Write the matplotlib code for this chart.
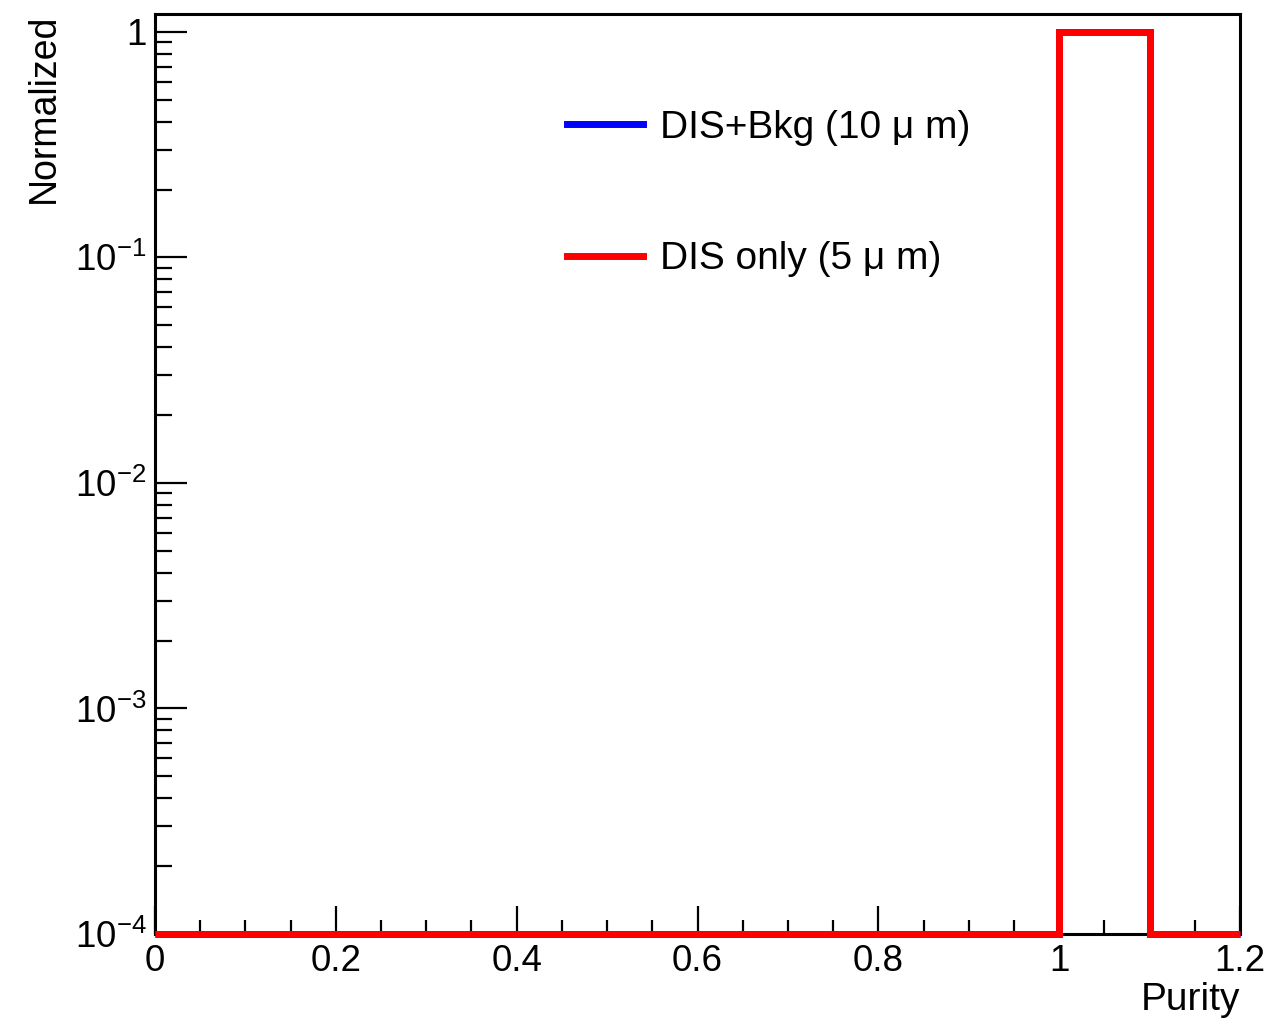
import numpy as np
import matplotlib
matplotlib.use("Agg")
import matplotlib.pyplot as plt
from matplotlib.ticker import FuncFormatter, MultipleLocator, LogLocator

plt.rcParams['font.family'] = ['Liberation Sans', 'DejaVu Sans']
plt.rcParams['mathtext.fontset'] = 'custom'
plt.rcParams['mathtext.rm'] = 'Liberation Sans'
plt.rcParams['mathtext.it'] = 'Liberation Sans'

# histogram bins (Purity) and normalized contents
bin_edges = [0.0, 0.1, 0.2, 0.3, 0.4, 0.5, 0.6, 0.7, 0.8, 0.9, 1.0, 1.1, 1.2]
dis_bkg = [0, 0, 0, 0, 0, 0, 0, 0, 0, 0, 1.0, 0]
dis_only = [0, 0, 0, 0, 0, 0, 0, 0, 0, 0, 1.0, 0]
labels = ['DIS+Bkg (10 μ m)', 'DIS only (5 μ m)']

ymin, ymax = 1e-4, 1.2

fig = plt.figure(figsize=(12.66, 10.23), dpi=100)
ax = fig.add_axes([155/1266, 1 - 934/1023, (1240-155)/1266, (934-14)/1023])

# empty bins are drawn at the axis floor, as ROOT does on a log scale
for vals, col, lab in [(dis_bkg, 'blue', labels[0]), (dis_only, 'red', labels[1])]:
    shown = np.maximum(np.array(vals, dtype=float), ymin)
    ax.stairs(shown, bin_edges, baseline=None, color=col, linewidth=5,
              label=lab, clip_on=False, zorder=3)

ax.set_yscale('log')
ax.set_xlim(0, 1.2)
ax.set_ylim(ymin, ymax)

ax.xaxis.set_major_locator(MultipleLocator(0.2))
ax.xaxis.set_minor_locator(MultipleLocator(0.05))
ax.xaxis.set_major_formatter(FuncFormatter(lambda v, p: '%g' % round(v, 3)))
ax.yaxis.set_major_locator(LogLocator(base=10))
ax.yaxis.set_minor_locator(LogLocator(base=10, subs=np.arange(2, 10)))


def yfmt(v, p):
    e = int(round(np.log10(v)))
    return '1' if e == 0 else r'$10^{%d}$' % e


ax.yaxis.set_major_formatter(FuncFormatter(yfmt))

ax.tick_params(axis='x', which='major', direction='in', length=20, width=1.6,
               labelsize=26.5, pad=7)
ax.tick_params(axis='x', which='minor', direction='in', length=10, width=1.6)
ax.tick_params(axis='y', which='major', direction='in', length=23, width=1.6,
               labelsize=26.5, pad=6)
ax.tick_params(axis='y', which='minor', direction='in', length=12, width=1.6)
for s in ax.spines.values():
    s.set_linewidth(2.2)

ax.set_xlabel('Purity', fontsize=28, ha='right', x=1.0)
ax.set_ylabel('Normalized', fontsize=27, ha='right', y=1.0)
ax.xaxis.set_label_coords(1.0, -0.052)
ax.yaxis.set_label_coords(-0.086, 1.0)

ax.legend(loc='upper left', bbox_to_anchor=(567/1266, 1 - 110/1023),
          bbox_transform=fig.transFigure, frameon=False, fontsize=28,
          handlelength=1.95, handletextpad=0.45, labelspacing=2.45,
          borderpad=0, borderaxespad=0)

fig.savefig('out.png', dpi=100)
